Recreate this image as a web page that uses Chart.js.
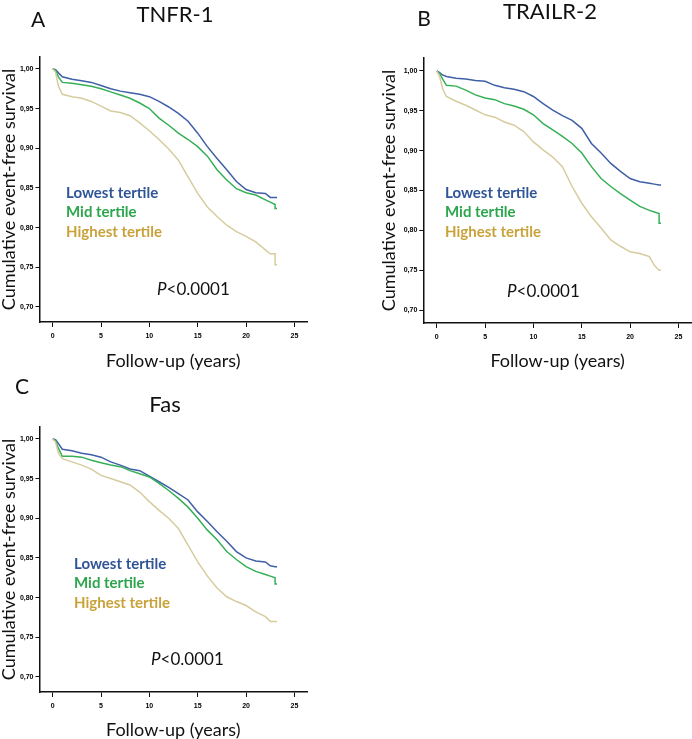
<!DOCTYPE html>
<html>
<head>
<meta charset="utf-8">
<script src="https://cdn.jsdelivr.net/npm/chart.js@4"></script>
<style>
  body { margin:0; background:#fff; }
  #wrap { position:relative; width:692px; height:739px; overflow:hidden; font-family:Lato, 'Open Sans', sans-serif; }
  canvas { position:absolute; }
  .t { position:absolute; transform:translate(-50%,-50%); white-space:nowrap; color:#111; }
  .lbl { font-size:21px; }
  .ttl { font-size:22px; }
  .leg { position:absolute; transform:translateY(-50%); font-size:15px; font-weight:bold; white-space:nowrap; line-height:1; }
  .pv { position:absolute; transform:translateY(-50%); font-size:17px; white-space:nowrap; color:#111; }
</style>
</head>
<body>
<div id="wrap">
  <canvas id="chartA" width="346" height="370" style="left:0;top:0"></canvas>
  <canvas id="chartB" width="312" height="370" style="left:380px;top:0"></canvas>
  <canvas id="chartC" width="346" height="369" style="left:0;top:370px"></canvas>

  <div class="t lbl" style="left:38px;top:18px">A</div>
  <div class="t ttl" style="left:175px;top:13px">TNFR-1</div>
  <div class="leg" style="left:66px;top:192px;color:#2f5597">Lowest tertile</div>
  <div class="leg" style="left:66px;top:211px;color:#2ca64c">Mid tertile</div>
  <div class="leg" style="left:66px;top:231px;color:#c9a23a">Highest tertile</div>
  <div class="pv" style="left:157px;top:288px"><i>P</i>&lt;0.0001</div>

  <div class="t lbl" style="left:424px;top:17px">B</div>
  <div class="t ttl" style="left:550px;top:10px">TRAILR-2</div>
  <div class="leg" style="left:445px;top:192px;color:#2f5597">Lowest tertile</div>
  <div class="leg" style="left:445px;top:211px;color:#2ca64c">Mid tertile</div>
  <div class="leg" style="left:445px;top:231px;color:#c9a23a">Highest tertile</div>
  <div class="pv" style="left:507px;top:290px"><i>P</i>&lt;0.0001</div>

  <div class="t lbl" style="left:22px;top:385px">C</div>
  <div class="t ttl" style="left:165px;top:403px">Fas</div>
  <div class="leg" style="left:74px;top:563px;color:#2f5597">Lowest tertile</div>
  <div class="leg" style="left:74px;top:582px;color:#2ca64c">Mid tertile</div>
  <div class="leg" style="left:74px;top:602px;color:#c9a23a">Highest tertile</div>
  <div class="pv" style="left:151px;top:658px"><i>P</i>&lt;0.0001</div>
</div>
<script>
// follow-up times (years), 23 appears twice for the last drop
const years = [0, 0.3, 0.6, 1, 2, 3, 4, 5, 6, 7, 8, 9, 10, 11, 12, 13, 14, 15, 16, 17, 18, 19, 20, 21, 22, 22.5, 23, 23, 23.2];
const xTicks = [0, 5, 10, 15, 20, 25];
const yTicks = [0.70, 0.75, 0.80, 0.85, 0.90, 0.95, 1.00];

// TNFR-1
const aLowest  = [1.000, 0.999, 0.995, 0.990, 0.987, 0.985, 0.983, 0.979, 0.975, 0.972, 0.970, 0.968, 0.965, 0.959, 0.952, 0.944, 0.934, 0.919, 0.902, 0.887, 0.873, 0.858, 0.848, 0.844, 0.843, 0.838, 0.838, 0.838, 0.838];
const aMid     = [1.000, 0.998, 0.990, 0.983, 0.982, 0.980, 0.978, 0.975, 0.971, 0.967, 0.963, 0.957, 0.950, 0.938, 0.929, 0.919, 0.911, 0.902, 0.890, 0.873, 0.860, 0.849, 0.844, 0.841, 0.835, 0.832, 0.829, 0.824, 0.824];
const aHighest = [1.000, 0.996, 0.978, 0.968, 0.965, 0.963, 0.959, 0.953, 0.947, 0.945, 0.941, 0.932, 0.922, 0.911, 0.899, 0.885, 0.864, 0.843, 0.826, 0.814, 0.803, 0.795, 0.789, 0.782, 0.772, 0.767, 0.767, 0.753, 0.753];

// TRAILR-2
const bLowest  = [1.000, 0.998, 0.995, 0.993, 0.991, 0.990, 0.988, 0.987, 0.982, 0.979, 0.977, 0.974, 0.968, 0.959, 0.951, 0.944, 0.938, 0.928, 0.909, 0.897, 0.884, 0.874, 0.865, 0.861, 0.859, 0.858, 0.857, 0.857, 0.857];
const bMid     = [1.000, 0.997, 0.990, 0.982, 0.981, 0.976, 0.970, 0.966, 0.964, 0.959, 0.956, 0.952, 0.945, 0.934, 0.926, 0.918, 0.909, 0.897, 0.880, 0.865, 0.855, 0.846, 0.838, 0.830, 0.825, 0.823, 0.821, 0.809, 0.809];
const bHighest = [1.000, 0.993, 0.978, 0.968, 0.962, 0.957, 0.951, 0.945, 0.942, 0.936, 0.932, 0.924, 0.911, 0.901, 0.892, 0.880, 0.855, 0.834, 0.817, 0.803, 0.788, 0.780, 0.773, 0.771, 0.767, 0.756, 0.750, 0.750, 0.750];

// Fas
const cLowest  = [1.000, 0.999, 0.994, 0.987, 0.985, 0.982, 0.980, 0.977, 0.971, 0.967, 0.962, 0.960, 0.953, 0.946, 0.939, 0.931, 0.923, 0.908, 0.896, 0.883, 0.871, 0.858, 0.850, 0.846, 0.845, 0.840, 0.839, 0.839, 0.839];
const cMid     = [1.000, 0.998, 0.988, 0.978, 0.978, 0.977, 0.973, 0.970, 0.967, 0.965, 0.960, 0.956, 0.952, 0.944, 0.935, 0.925, 0.914, 0.900, 0.885, 0.873, 0.858, 0.848, 0.839, 0.833, 0.829, 0.827, 0.825, 0.817, 0.817];
const cHighest = [1.000, 0.996, 0.982, 0.975, 0.971, 0.967, 0.962, 0.954, 0.950, 0.946, 0.942, 0.933, 0.921, 0.910, 0.900, 0.887, 0.866, 0.845, 0.827, 0.812, 0.801, 0.795, 0.790, 0.782, 0.776, 0.770, 0.770, 0.770, 0.770];

const tickFont = { family: "'Liberation Sans Narrow', 'Liberation Sans', sans-serif", size: 7, weight: 'bold' };
const titleFont = { family: "Lato, 'Open Sans', sans-serif", size: 18, lineHeight: 1 };

function pts(vals) {
    return vals.map(function(v, i) { return { x: years[i], y: v }; });
}

function line(vals, color) {
    return { data: pts(vals), borderColor: color, borderWidth: 1.5, pointRadius: 0, tension: 0, fill: false };
}

function makePanel(id, low, mid, high, box) {
    new Chart(document.getElementById(id), {
        type: 'line',
        data: {
            datasets: [
                line(high, '#d6cc9f'),
                line(mid, '#35b055'),
                line(low, '#3f5fa6')
            ]
        },
        options: {
            responsive: false,
            animation: false,
            layout: { padding: { top: box.top, right: box.right, left: 0, bottom: 0 } },
            plugins: { legend: { display: false }, tooltip: { enabled: false } },
            scales: {
                x: {
                    type: 'linear',
                    min: box.xmin, max: box.xmax,
                    afterBuildTicks: function(s) { s.ticks = xTicks.map(function(v) { return { value: v }; }); },
                    afterFit: function(s) { s.height = box.xh; },
                    grid: { drawOnChartArea: false, drawTicks: true, tickLength: 5, tickColor: '#111' },
                    border: { color: '#111', width: 1.5 },
                    ticks: { font: tickFont, color: '#000', padding: 5, maxRotation: 0 },
                    title: { display: true, text: 'Follow-up (years)', font: titleFont, color: '#111', padding: 0 }
                },
                y: {
                    min: box.ymin, max: box.ymax,
                    afterBuildTicks: function(s) { s.ticks = yTicks.map(function(v) { return { value: v }; }); },
                    afterFit: function(s) { s.width = box.yw; },
                    grid: { drawOnChartArea: false, drawTicks: true, tickLength: 4, tickColor: '#111' },
                    border: { color: '#111', width: 1.5 },
                    ticks: { font: tickFont, color: '#000', padding: 2, callback: function(v) { return v.toFixed(2).replace('.', ','); } },
                    title: { display: true, text: 'Cumulative event-free survival', font: titleFont, color: '#111', padding: 0 }
                }
            }
        }
    });
}

makePanel('chartA', aLowest, aMid, aHighest, { top: 57, right: 39, xh: 48, yw: 39.5, xmin: -1.36, xmax: 26.3, ymin: 0.681, ymax: 1.015 });
makePanel('chartB', bLowest, bMid, bHighest, { top: 58, right: 0, xh: 47, yw: 43.3, xmin: -1.39, xmax: 26.4, ymin: 0.6837, ymax: 1.0163 });
makePanel('chartC', cLowest, cMid, cHighest, { top: 57, right: 39, xh: 47, yw: 39.5, xmin: -1.36, xmax: 26.3, ymin: 0.681, ymax: 1.015 });
</script>
</body>
</html>
